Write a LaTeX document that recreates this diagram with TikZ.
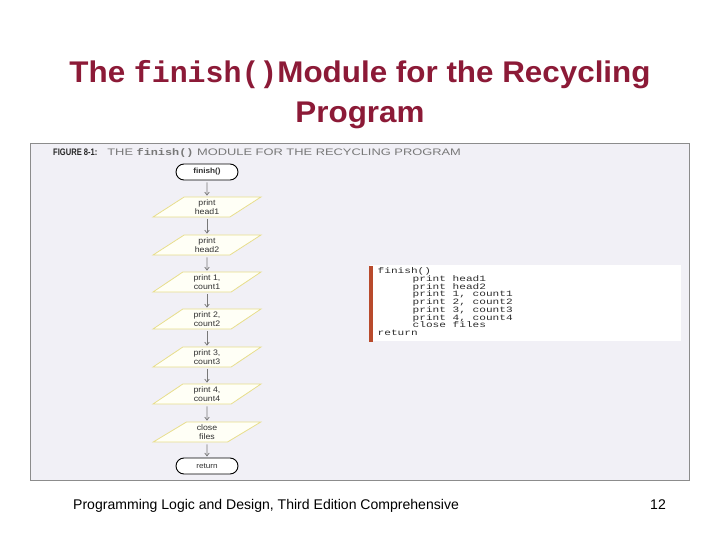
\documentclass[tikz,border=0pt]{standalone}
\usepackage{fontspec}
\setmainfont{Liberation Sans}
\setmonofont{Liberation Mono}
\newfontfamily\titlefont[FakeStretch=1.05]{Liberation Sans}
\newfontfamily\codefont[FakeStretch=1.36]{Liberation Mono}
\newfontfamily\capfont[FakeStretch=1.36]{Liberation Sans}
\newfontfamily\capbold[FakeStretch=0.8]{Liberation Sans Bold}
\newfontfamily\capmono[FakeStretch=1.25]{Liberation Mono}
\newfontfamily\boxfont[FakeStretch=1.1]{Liberation Sans}
\usetikzlibrary{shapes.geometric,arrows.meta}
\definecolor{titlered}{RGB}{140,26,55}
\definecolor{figbg}{RGB}{241,240,246}
\definecolor{figborder}{RGB}{140,140,140}
\definecolor{pyel}{RGB}{232,222,140}
\definecolor{pfill}{RGB}{255,255,246}
\definecolor{ptext}{RGB}{50,50,50}
\definecolor{agray}{RGB}{120,120,120}
\definecolor{codebar}{RGB}{184,74,44}
\definecolor{codetext}{RGB}{45,45,45}
\definecolor{captext}{RGB}{120,120,120}
\tikzset{
  term/.style={draw=black, line width=0.9bp, fill=white, rounded corners=8bp,
    minimum width=62bp, minimum height=16bp, inner sep=0pt,
    font=\boxfont\bfseries\fontsize{7.5}{8}\selectfont, text=ptext},
  io/.style={trapezium, trapezium left angle=41, trapezium right angle=139,
    trapezium stretches=true, draw=pyel, fill=pfill, line width=0.8bp,
    minimum width=108bp, minimum height=20bp, inner sep=0pt, align=center,
    font=\boxfont\fontsize{8}{8.6}\selectfont, text=ptext},
  flow/.style={draw=agray, line width=0.7bp, shorten <=2bp, shorten >=1bp,
    -{Straight Barb[length=3bp,width=4.5bp]}},
  codeline/.style={anchor=base west, inner sep=0pt, text=codetext,
    font=\codefont\fontsize{8.2}{8.2}\selectfont},
  titletext/.style={anchor=base, inner sep=0pt, text=titlered,
    font=\titlefont\bfseries\fontsize{30}{34}\selectfont}
}
\begin{document}
\begin{tikzpicture}[x=1bp,y=-1bp]
\useasboundingbox[fill=white] (0,0) rectangle (720,540);

% title
\node[titletext] (title1) at (360,82.5) {The {\ttfamily\bfseries finish()}Module for the Recycling};
\node[titletext] (title2) at (360,122.5) {Program};

% figure panel
\draw[draw=figborder, fill=figbg, line width=1bp] (30,144) rectangle (689,480);
\node[anchor=base west, inner sep=0pt, text=captext, font=\capfont\fontsize{9.5}{10}\selectfont] (cap) at (53,155.5)
  {{\capbold\color{black!85}FIGURE 8-1:}\hspace{10bp}THE {\capmono\bfseries finish()} MODULE FOR THE RECYCLING PROGRAM};

% flowchart
\node[term] (t1) at (207,172) {finish()};
\node[io] (p1) at (207,207) {print\\head1};
\node[io] (p2) at (207,245) {print\\head2};
\node[io] (p3) at (207,282) {print 1,\\count1};
\node[io] (p4) at (207,319) {print 2,\\count2};
\node[io] (p5) at (207,357) {print 3,\\count3};
\node[io] (p6) at (207,394) {print 4,\\count4};
\node[io] (p7) at (207,432) {close\\files};
\node[term, font=\boxfont\fontsize{7.5}{8}\selectfont] (t2) at (207,466) {return};

\draw[flow] (t1.south) -- (p1.north);
\draw[flow] (p1.south) -- (p2.north);
\draw[flow] (p2.south) -- (p3.north);
\draw[flow] (p3.south) -- (p4.north);
\draw[flow] (p4.south) -- (p5.north);
\draw[flow] (p5.south) -- (p6.north);
\draw[flow] (p6.south) -- (p7.north);
\draw[flow] (p7.south) -- (t2.north);

% pseudocode box
\fill[white] (370,265) rectangle (681,341);
\fill[codebar] (369,266) rectangle (372.5,342);
\node[codeline] (c1) at (377.5,274) {finish()};
\node[codeline] (c2) at (412.5,281.6) {print head1};
\node[codeline] (c3) at (412.5,289.1) {print head2};
\node[codeline] (c4) at (412.5,296.7) {print 1, count1};
\node[codeline] (c5) at (412.5,304.5) {print 2, count2};
\node[codeline] (c6) at (412.5,312.2) {print 3, count3};
\node[codeline] (c7) at (412.5,320) {print 4, count4};
\node[codeline] (c8) at (412.5,327.8) {close files};
\node[codeline] (c9) at (377.5,335.5) {return};

% footer
\node[anchor=base west, inner sep=0pt, font=\fontsize{14.1}{15}\selectfont] (foot) at (73,509)
  {Programming Logic and Design, Third Edition Comprehensive};
\node[anchor=base west, inner sep=0pt, font=\fontsize{14.1}{15}\selectfont] (pg) at (650,509) {12};
\end{tikzpicture}
\end{document}
